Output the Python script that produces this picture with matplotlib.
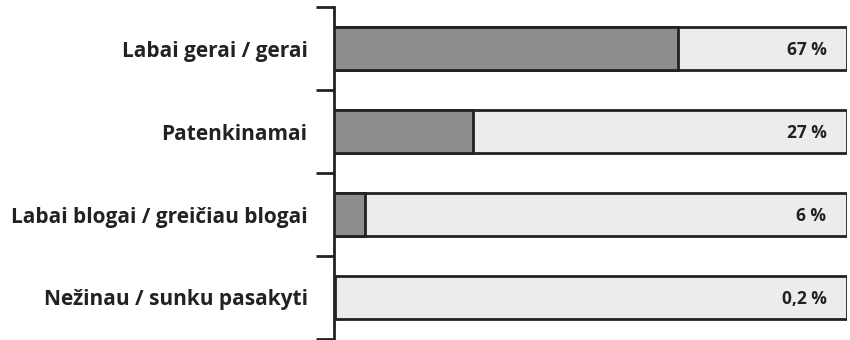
import matplotlib
matplotlib.use('Agg')
import matplotlib.pyplot as plt
import numpy as np

categories = ['Labai gerai / gerai', 'Patenkinamai',
              'Labai blogai / greičiau blogai', 'Nežinau / sunku pasakyti']
values = [67, 27, 6, 0.2]
value_labels = ['67 %', '27 %', '6 %', '0,2 %']
total = 100

plt.rcParams['font.family'] = ['Open Sans', 'DejaVu Sans']

fig = plt.figure(figsize=(8.5, 3.4), dpi=100)
ax = fig.add_axes([334 / 850, 1 / 340, 513 / 850, 332 / 340])

y = np.arange(len(categories))
ax.barh(y, [total] * len(categories), height=0.52, color='#ececec',
        edgecolor='#222222', linewidth=2, zorder=2)
ax.barh(y, values, height=0.52, color='#8e8c8d',
        edgecolor='#222222', linewidth=2, zorder=3)

for i, lab in enumerate(value_labels):
    ax.text(total * 0.96, i + 0.02, lab, ha='right', va='center',
            fontsize=12.5, fontweight='bold', color='#222222', zorder=4)

ax.set_xlim(0, total)
ax.set_ylim(len(categories) - 0.5, -0.5)

ax.set_yticks(np.arange(-0.5, len(categories)), [])
ax.set_yticks(y, categories, minor=True)
ax.tick_params(axis='y', which='major', length=13, width=2, color='#222222')
ax.tick_params(axis='y', which='minor', length=0, pad=19,
               labelsize=15, labelcolor='#222222')
for t in ax.get_yticklabels(minor=True):
    t.set_fontweight('bold')

ax.set_xticks([])
for s in ['top', 'right', 'bottom']:
    ax.spines[s].set_visible(False)
ax.spines['left'].set_linewidth(2)
ax.spines['left'].set_color('#222222')

plt.savefig('out.png', dpi=100)
